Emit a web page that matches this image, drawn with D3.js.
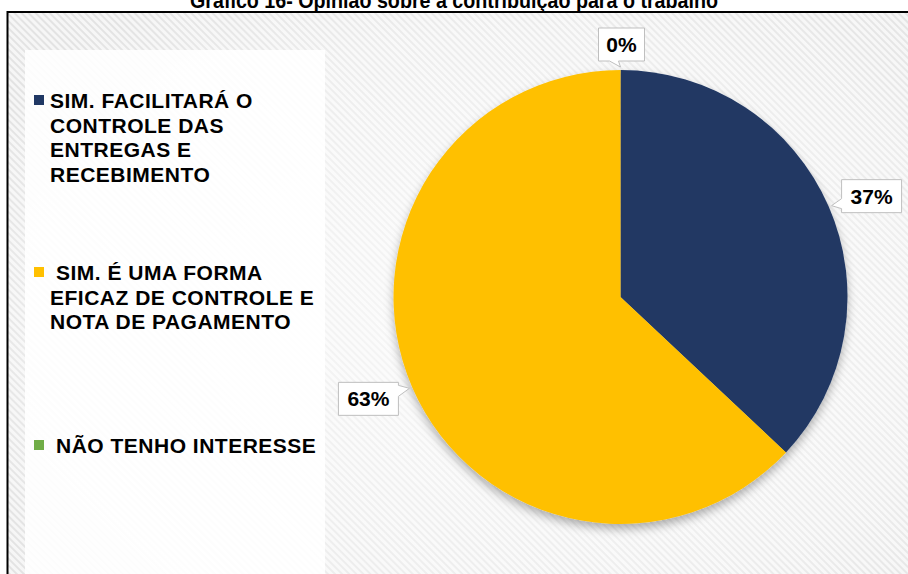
<!DOCTYPE html>
<html>
<head>
<meta charset="utf-8">
<script src="https://cdn.jsdelivr.net/npm/d3@7"></script>
<style>
  html, body { margin: 0; padding: 0; background: #ffffff; }
  svg { display: block; font-family: "Liberation Sans", Arial, sans-serif; }
</style>
</head>
<body>
<svg id="chart" width="908" height="574"></svg>
<script>
// Survey answers and their shares (%)
const categories = [
  "SIM. FACILITARÁ O CONTROLE DAS ENTREGAS E RECEBIMENTO",
  "SIM. É UMA FORMA EFICAZ DE CONTROLE E NOTA DE PAGAMENTO",
  "NÃO TENHO INTERESSE"
];
const legendLines = [
  ["SIM. FACILITARÁ O", "CONTROLE DAS", "ENTREGAS E", "RECEBIMENTO"],
  ["SIM. É UMA FORMA", "EFICAZ DE CONTROLE E", "NOTA DE PAGAMENTO"],
  ["NÃO TENHO INTERESSE"]
];
const values = [37, 63, 0];
const colors = ["#203864", "#FFC000", "#70AD47"];
const titleText = "Gráfico 16- Opinião sobre a contribuição para o trabalho";

const W = 908, H = 574;
const svg = d3.select("#chart");
const defs = svg.append("defs");

// diagonal stripe texture for the chart area
const pat = defs.append("pattern")
  .attr("id", "stripes").attr("patternUnits", "userSpaceOnUse")
  .attr("width", 5).attr("height", 5)
  .attr("patternTransform", "rotate(-45)");
pat.append("rect").attr("width", 5).attr("height", 5).attr("fill", "#f6f6f6");
pat.append("rect").attr("width", 2).attr("height", 5).attr("fill", "#e3e3e3");

const rg = defs.append("radialGradient").attr("id", "glow")
  .attr("cx", "55%").attr("cy", "50%").attr("r", "65%");
rg.append("stop").attr("offset", "0%").attr("stop-color", "#fff").attr("stop-opacity", 0.75);
rg.append("stop").attr("offset", "70%").attr("stop-color", "#fff").attr("stop-opacity", 0.35);
rg.append("stop").attr("offset", "100%").attr("stop-color", "#fff").attr("stop-opacity", 0);

const shadow = defs.append("filter").attr("id", "pieShadow")
  .attr("x", "-20%").attr("y", "-20%").attr("width", "140%").attr("height", "140%");
shadow.append("feDropShadow").attr("dx", 0).attr("dy", 5)
  .attr("stdDeviation", 5).attr("flood-color", "#000").attr("flood-opacity", 0.3);

// chart area with frame
const frame = { x: 7.5, y: 12, w: 940, h: 620 };
svg.append("rect").attr("x", frame.x).attr("y", frame.y)
  .attr("width", frame.w).attr("height", frame.h).attr("fill", "url(#stripes)");
svg.append("rect").attr("x", frame.x).attr("y", frame.y)
  .attr("width", frame.w).attr("height", frame.h).attr("fill", "url(#glow)");
svg.append("rect").attr("x", frame.x).attr("y", frame.y)
  .attr("width", frame.w).attr("height", frame.h)
  .attr("fill", "none").attr("stroke", "#000").attr("stroke-width", 2);

// title (sits above the frame)
svg.append("text").attr("x", W / 2).attr("y", 8)
  .attr("text-anchor", "middle").attr("font-size", 22).attr("font-weight", "bold")
  .attr("textLength", 528).attr("lengthAdjust", "spacingAndGlyphs")
  .attr("fill", "#000").text(titleText);

// legend panel
svg.append("rect").attr("x", 25).attr("y", 50).attr("width", 300).attr("height", 540)
  .attr("fill", "#fff").attr("opacity", 0.88);

const legendTop = [108, 280, 453];
const lineH = 24.5;
const legend = svg.append("g");
legendLines.forEach((lines, i) => {
  const g = legend.append("g");
  g.append("rect").attr("x", 34).attr("y", legendTop[i] - 13)
    .attr("width", 10).attr("height", 10).attr("fill", colors[i]);
  lines.forEach((ln, j) => {
    g.append("text")
      .attr("x", (j === 0 && i > 0) ? 56 : 50)
      .attr("y", legendTop[i] + j * lineH)
      .attr("font-size", 21).attr("font-weight", "bold")
      .attr("letter-spacing", 0.5).attr("fill", "#000")
      .text(ln);
  });
});

// pie
const cx = 620.5, cy = 297, R = 227;
const pie = d3.pie().sort(null).value(d => d)(values);
const arc = d3.arc().innerRadius(0).outerRadius(R);
const pg = svg.append("g").attr("transform", `translate(${cx},${cy})`)
  .attr("filter", "url(#pieShadow)");
pg.selectAll("path").data(pie).join("path")
  .attr("d", arc).attr("fill", (d, i) => colors[i]);

// callout labels
const fmt = d => `${d}%`;
function tipOf(d) {
  const a = (d.startAngle + d.endAngle) / 2;
  const r = R + 3;
  return { a, x: cx + r * Math.sin(a), y: cy - r * Math.cos(a) };
}
const labels = svg.append("g");
pie.forEach((d, i) => {
  const t = tipOf(d);
  const txt = fmt(values[i]);
  const bw = txt.length > 2 ? 60 : 46, bh = 33;
  let bx, by, pts;
  const s = Math.sin(t.a);
  if (Math.abs(s) < 0.3) {
    // above the pie: wedge on bottom edge
    bx = t.x - bw / 2 + 1; by = t.y - 6 - bh;
    const b = by + bh;
    pts = [[bx, by], [bx + bw, by], [bx + bw, b], [t.x - 2, b], [t.x, t.y], [t.x - 11, b], [bx, b]];
  } else if (s > 0) {
    // right side: wedge on left edge
    bx = t.x + 10; by = t.y - 26;
    pts = [[bx, by], [bx + bw, by], [bx + bw, by + bh], [bx, by + bh], [bx, by + bh - 4],
           [t.x, t.y], [bx, by + bh - 14]];
  } else {
    // left side: wedge on right edge
    bx = t.x - 11 - bw; by = t.y - 6;
    const r = bx + bw;
    pts = [[bx, by], [r, by], [r, by + 3], [t.x, t.y], [r, by + 14], [r, by + bh], [bx, by + bh]];
  }
  labels.append("path")
    .attr("d", d3.line()(pts) + "Z")
    .attr("fill", "#fff").attr("stroke", "#bfbfbf").attr("stroke-width", 1);
  labels.append("text")
    .attr("x", bx + bw / 2).attr("y", by + bh / 2 + 7.5)
    .attr("text-anchor", "middle").attr("font-size", 21).attr("font-weight", "bold")
    .attr("fill", "#000").text(txt);
});
</script>
</body>
</html>
